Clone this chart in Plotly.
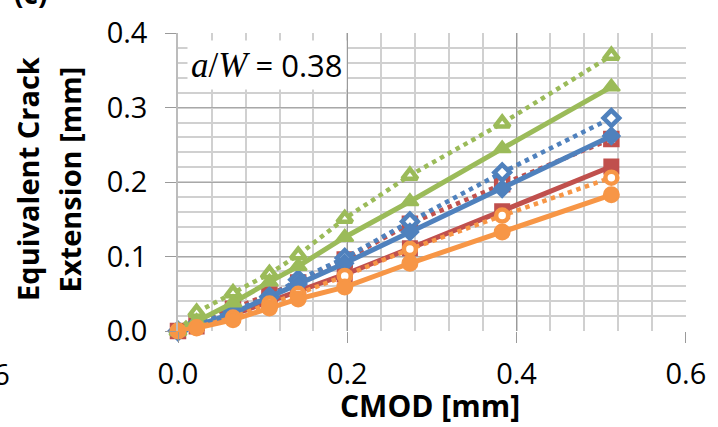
import plotly.graph_objects as go

# CMOD readings shared by every series [mm]
cmod = [0.0, 0.022, 0.065, 0.108, 0.142, 0.197, 0.274, 0.383, 0.512]

# Equivalent crack extension [mm]
red_dotted = [0.0, 0.011, 0.030, 0.049, 0.065, 0.096, 0.144, 0.197, 0.258]
red_solid = [0.0, 0.006, 0.022, 0.040, 0.053, 0.076, 0.111, 0.161, 0.221]
blue_dotted = [0.0, 0.009, 0.027, 0.046, 0.069, 0.098, 0.147, 0.213, 0.286]
blue_solid = [0.0, 0.007, 0.024, 0.045, 0.063, 0.091, 0.133, 0.191, 0.262]
green_dotted = [0.0, 0.025, 0.051, 0.077, 0.102, 0.151, 0.209, 0.279, 0.370]
green_solid = [0.0, 0.013, 0.038, 0.066, 0.087, 0.126, 0.174, 0.245, 0.328]
orange_dotted = [0.0, 0.005, 0.018, 0.037, 0.050, 0.074, 0.110, 0.155, 0.206]
orange_solid = [0.0, 0.004, 0.015, 0.031, 0.043, 0.059, 0.091, 0.133, 0.183]

x_ticks = [0.0, 0.2, 0.4, 0.6]
y_ticks = [0.0, 0.1, 0.2, 0.3, 0.4]

RED = "#C0504D"
BLUE = "#4F81BD"
GREEN = "#9BBB59"
ORANGE = "#F79646"
FONT = "Open Sans"

W, H = 718, 427
L, R, T, B = 178, 26, 19, 96
PW, PH = W - L - R, H - T - B


def px_x(p):
    return (p - L) / PW


def px_y(p):
    return (H - B - p) / PH


DOT = "4.5px,4.5px"

series = [
    (red_dotted, RED, DOT, "square", 12, True),
    (red_solid, RED, "solid", "square", 14, False),
    (blue_dotted, BLUE, DOT, "diamond", 12, True),
    (blue_solid, BLUE, "solid", "diamond", 13, False),
    (green_dotted, GREEN, DOT, "triangle-up", 13, True),
    (green_solid, GREEN, "solid", "triangle-up", 15, False),
    (orange_dotted, ORANGE, DOT, "circle", 12, True),
    (orange_solid, ORANGE, "solid", "circle", 15, False),
]

fig = go.Figure()
for vals, col, dash, sym, size, hollow in series:
    fig.add_trace(go.Scatter(
        x=cmod, y=vals, mode="lines+markers",
        line=dict(color=col, width=5 if dash == "solid" else 4.5, dash=dash),
        marker=dict(
            symbol=sym, size=size,
            color="white" if hollow else col,
            line=dict(color=col, width=4.5 if hollow else 2),
        ),
        showlegend=False, cliponaxis=False,
    ))

tickfont = dict(family=FONT, size=29, color="black")
fig.update_layout(
    width=W, height=H,
    margin=dict(l=L, r=R, t=T, b=B),
    paper_bgcolor="white", plot_bgcolor="white",
    xaxis=dict(
        range=[0, 0.6002], tickvals=x_ticks, tickformat=".1f",
        showgrid=True, gridcolor="#9a9a9a", gridwidth=1.2,
        minor=dict(dtick=0.04, showgrid=True, gridcolor="#d0d0d0", gridwidth=1.6),
        ticks="outside", ticklen=11, tickcolor="#9a9a9a", tickwidth=1.2,
        showline=False, zeroline=False, tickfont=tickfont,
        ticklabelstandoff=6, ticklabeloverflow="allow",
    ),
    yaxis=dict(
        range=[0, 0.4003], tickvals=y_ticks, tickformat=".1f",
        showgrid=True, gridcolor="#a8a8a8", gridwidth=1.2,
        minor=dict(dtick=0.02, showgrid=True, gridcolor="#d0d0d0", gridwidth=1.6),
        ticks="outside", ticklen=11, tickcolor="#9a9a9a", tickwidth=1.2,
        showline=True, linecolor="#bcbcbc", linewidth=1.5,
        zeroline=False, tickfont=tickfont,
        ticklabelstandoff=12, ticklabeloverflow="allow",
    ),
)

title_font = dict(family=FONT, size=30, color="black")
fig.add_annotation(
    xref="paper", yref="paper", x=px_x(433), y=px_y(409),
    text="<b>CMOD [mm]</b>", showarrow=False,
    xanchor="center", yanchor="middle", font=title_font,
)
fig.add_annotation(
    xref="paper", yref="paper", x=px_x(25), y=px_y(172),
    text="<b>Equivalent Crack</b>", textangle=-90, showarrow=False,
    xanchor="center", yanchor="middle", font=dict(family=FONT, size=29, color="black"),
)
fig.add_annotation(
    xref="paper", yref="paper", x=px_x(68), y=px_y(172),
    text="<b>Extension [mm]</b>", textangle=-90, showarrow=False,
    xanchor="center", yanchor="middle", font=dict(family=FONT, size=29, color="black"),
)

fig.add_annotation(
    xref="paper", yref="paper", x=px_x(268), y=px_y(52),
    text='<span style="font-family:Liberation Serif;font-size:35px"><i>a</i>/<i>W</i></span> = 0.38',
    showarrow=False, xanchor="center", yanchor="middle",
    bgcolor="white", borderpad=3,
    font=dict(family=FONT, size=31, color="black"),
)

# neighbouring panel fragments at the edges
fig.add_annotation(
    xref="paper", yref="paper", x=px_x(10), y=px_y(376),
    text="0.6", showarrow=False, xanchor="right", yanchor="middle",
    font=tickfont,
)
fig.add_annotation(
    xref="paper", yref="paper", x=px_x(29), y=px_y(-23),
    text="<b>(c)</b>", showarrow=False, xanchor="center", yanchor="middle",
    font=dict(family=FONT, size=28, color="black"),
)

fig.write_html("out.html")
